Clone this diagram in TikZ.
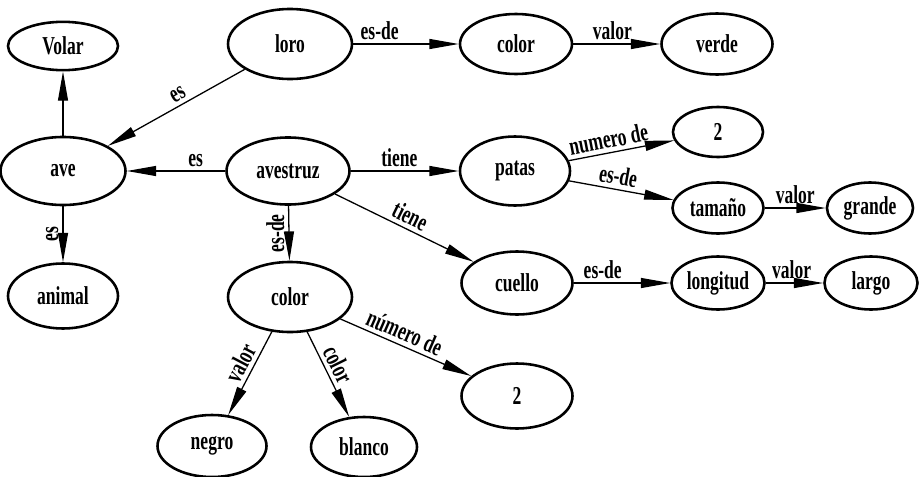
\documentclass[tikz,border=0pt]{standalone}
\usepackage{fontspec}
\setmainfont[FakeStretch=0.68]{Liberation Serif}
\usepackage{tikz}
\usetikzlibrary{arrows.meta,shapes}

\begin{document}
\begin{tikzpicture}[x=0.03cm,y=-0.03cm,>={Triangle[length=25pt,width=8.5pt]},
  concept/.style 2 args={ellipse,draw,line width=2.2pt,inner sep=0pt,minimum width=#1cm,minimum height=#2cm},
  rel/.style={->,line width=1.1pt},
  every node/.style={font=\fontsize{22}{26}\selectfont\bfseries}]
\useasboundingbox (0,0) rectangle (921,477);
\node[concept={3.3}{1.45}] (volar) at (63,46) {Volar};
\node[concept={3.72}{2.1}] (loro) at (290,44) {loro};
\node[concept={3.36}{1.8}] (colorv) at (516,44) {color};
\node[concept={3.33}{1.83}] (verde) at (717,44) {verde};
\node[concept={3.75}{2.04}] (ave) at (63,171) {ave};
\node[concept={3.69}{2.01}] (avestruz) at (288,171) {avestruz};
\node[concept={3.3}{2.07}] (patas) at (515,171) {patas};
\node[concept={2.7}{1.5}] (dospatas) at (718,132) {2};
\node[concept={2.73}{1.53}] (tamano) at (718,208) {tamaño};
\node[concept={2.58}{1.53}] (grande) at (870,208) {grande};
\node[concept={3.3}{1.95}] (animal) at (63,296) {animal};
\node[concept={3.72}{2.1}] (colorb) at (290,297) {color};
\node[concept={3.33}{1.89}] (cuello) at (517,283) {cuello};
\node[concept={2.79}{1.59}] (longitud) at (718,283) {longitud};
\node[concept={2.79}{1.59}] (largo) at (871,283) {largo};
\node[concept={3.33}{1.95}] (doscolor) at (517,396) {2};
\node[concept={3.27}{1.86}] (negro) at (212,446) {negro};
\node[concept={3.18}{1.8}] (blanco) at (364,447) {blanco};

\draw[rel](ave)--(volar);
\draw[rel](loro)--node[pos=0.45,sloped,above]{es}(ave);
\draw[rel](avestruz)--node[pos=0.3,above]{es}(ave);
\draw[rel](ave)--node[midway,rotate=90,anchor=south]{es}(animal);
\draw[rel](loro)--node[pos=0.25,above]{es-de}(colorv);
\draw[rel](colorv)--node[pos=0.45,above]{valor}(verde);
\draw[rel](avestruz)--node[pos=0.45,above]{tiene}(patas);
\draw[rel](patas)--node[pos=0.4,sloped,above]{numero de}(dospatas);
\draw[rel](patas)--node[pos=0.45,sloped,above]{es-de}(tamano);
\draw[rel](tamano)--node[pos=0.5,above]{valor}(grande);
\draw[rel](avestruz)--node[pos=0.5,sloped,above]{tiene}(cuello);
\draw[rel](cuello)--node[pos=0.3,above]{es-de}(longitud);
\draw[rel](longitud)--node[pos=0.45,above]{valor}(largo);
\draw[rel](avestruz)--node[midway,rotate=90,anchor=south]{es-de}(colorb);
\draw[rel](colorb)--node[pos=0.45,sloped,above]{valor}(negro);
\draw[rel](colorb)--node[pos=0.45,sloped,above]{color}(blanco);
\draw[rel](colorb)--node[pos=0.45,sloped,above]{número de}(doscolor);
\end{tikzpicture}
\end{document}
